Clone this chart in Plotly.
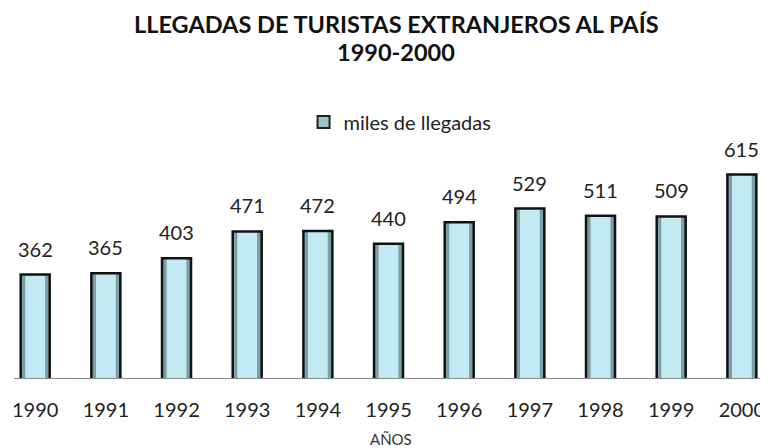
import plotly.graph_objects as go

years = ["1990", "1991", "1992", "1993", "1994", "1995", "1996", "1997", "1998", "1999", "2000"]
arrivals = [362, 365, 403, 471, 472, 440, 494, 529, 511, 509, 615]
series_name = "miles de llegadas"
title_line1 = "LLEGADAS DE TURISTAS EXTRANJEROS AL PAÍS"
title_line2 = "1990-2000"
x_title = "AÑOS"

xpos = list(range(len(years)))
base_font = "Lato, 'Open Sans', sans-serif"

fig = go.Figure()
# dark bevel body
fig.add_trace(go.Bar(
    x=xpos, y=arrivals, width=0.41, name=series_name,
    marker=dict(color="#7b9fa6", line=dict(width=0)),
    showlegend=False, hoverinfo="skip",
))
# light face
fig.add_trace(go.Bar(
    x=xpos, y=arrivals, width=0.28, name=series_name,
    marker=dict(color="#c3e9f2", line=dict(width=0)),
    showlegend=False, hoverinfo="skip",
))
# outline
fig.add_trace(go.Bar(
    x=xpos, y=arrivals, width=0.41, name=series_name,
    marker=dict(color="rgba(0,0,0,0)", line=dict(color="#111111", width=2.5)),
    showlegend=False,
))
# legend-only entry
fig.add_trace(go.Bar(
    x=[None], y=[None], name=series_name,
    marker=dict(color="#9cc4cc", line=dict(color="#222222", width=2)),
    showlegend=True,
))

for xi, v in zip(xpos, arrivals):
    fig.add_annotation(x=xi, y=v, text=str(v), showarrow=False, yanchor="bottom",
                       yshift=12, font=dict(size=20, color="#222222", family=base_font))

fig.add_annotation(xref="paper", yref="paper", x=0.507, y=1.0, yshift=117,
                   text=title_line1, showarrow=False, xanchor="center", yanchor="middle",
                   font=dict(size=23.5, color="#111111", family="Lato, sans-serif", weight="bold"))
fig.add_annotation(xref="paper", yref="paper", x=0.507, y=1.0, yshift=89,
                   text=title_line2, showarrow=False, xanchor="center", yanchor="middle",
                   font=dict(size=23.5, color="#111111", family="Lato, sans-serif", weight="bold"))
fig.add_annotation(xref="paper", yref="paper", x=0.5, y=0, yshift=-50,
                   text=x_title, showarrow=False, xanchor="center", yanchor="top",
                   font=dict(size=15, color="#333333", family=base_font))

fig.update_layout(
    width=760, height=440,
    margin=dict(l=6, r=0, t=133, b=70, autoexpand=False),
    plot_bgcolor="white", paper_bgcolor="white",
    barmode="overlay",
    showlegend=True,
    legend=dict(orientation="h", x=0.512, y=1.08, xanchor="center", yanchor="middle",
                font=dict(size=20, color="#222222", family=base_font),
                bgcolor="rgba(0,0,0,0)", itemwidth=30),
    xaxis=dict(tickmode="array", tickvals=xpos, ticktext=years, range=[-0.30, 10.37],
               showline=True, linecolor="#888888", linewidth=1, showgrid=False,
               zeroline=False, ticks="", ticklabelstandoff=14, automargin=False,
               tickfont=dict(size=20, color="#222222", family=base_font)),
    yaxis=dict(range=[100, 700], visible=False, showgrid=False, zeroline=False,
               automargin=False),
)
fig.write_html("out.html")
